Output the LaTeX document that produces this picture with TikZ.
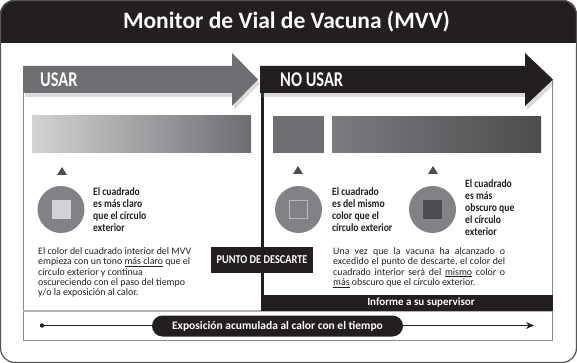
\documentclass[tikz,border=0pt]{standalone}
\usepackage{fontspec}
\setmainfont{Carlito}
\newfontfamily\condA{Carlito}[FakeStretch=0.78]
\newfontfamily\condB{Carlito}[FakeStretch=0.86]
\usetikzlibrary{arrows.meta,shadows}
\definecolor{blk}{HTML}{231F20}
\definecolor{arrgray}{HTML}{6D6E71}
\definecolor{lite}{HTML}{D1D3D4}
\definecolor{circ}{HTML}{808285}
\definecolor{dark}{HTML}{4D4D4F}
\definecolor{framegray}{HTML}{8A8A8A}
\definecolor{sepgray}{HTML}{B3B3B3}
\definecolor{sqline}{HTML}{B8B9BB}
\definecolor{gradR}{HTML}{7A7B7E}
\definecolor{outer}{HTML}{555555}
\begin{document}
\begin{tikzpicture}[x=1pt,y=-1pt,
  shadowed/.style={drop shadow={opacity=0.28,shadow xshift=2pt,shadow yshift=-4pt}},
  bigword/.style={text=white,font=\condA\bfseries\fontsize{21}{21}\selectfont,anchor=west,inner sep=0},
  lbl/.style={anchor=north west,inner sep=0,align=left,text=blk,font=\condB\bfseries\fontsize{11.2}{12}\selectfont},
  body/.style={anchor=north west,inner sep=0,align=left,text=blk,font=\fontsize{9.9}{10.3}\selectfont},
  whitebold/.style={text=white,font=\bfseries\fontsize{11.5}{12}\selectfont},
  disc/.style={circle,fill=circ,minimum size=47pt,inner sep=0},
  sq/.style={minimum size=19pt,inner sep=0},
  tri/.style={fill=dark}]
\useasboundingbox (0,0) rectangle (577,363);
\fill[white] (0,0) rectangle (577,363);
% header
\begin{scope}
\clip[rounded corners=14pt] (0,0) rectangle (577,363);
\fill[blk] (0,0) rectangle (577,43);
\end{scope}
\draw[outer,line width=1.2pt,rounded corners=14pt] (0.6,0.6) rectangle (576.4,362.4);
\node[text=white,font=\bfseries\fontsize{23.5}{24}\selectfont] (title) at (286.5,21.5) {Monitor de Vial de Vacuna (MVV)};
% inner frame
\draw[framegray,line width=0.8pt] (23,93) -- (23,340) -- (552.5,340) -- (552.5,80);
\draw[sepgray,line width=1.3pt] (23,311) -- (552.5,311);
% black divider and band
\fill[blk] (260.5,85) rectangle (263.5,296);
\node[fill=blk,minimum width=292.5pt,minimum height=16pt,inner sep=0] (band) at (406.75,303) {};
\node[text=white,font=\bfseries\fontsize{11}{12}\selectfont] (informe) at (421,303) {Informe a su supervisor};
% arrows
\path[fill=blk,shadowed] (260,66) -- (525,66) -- (525,53) -- (553,79.5) -- (525,106) -- (525,93) -- (260,93) -- cycle;
\path[fill=arrgray,shadowed] (23,66) -- (232,66) -- (232,53) -- (258,79.5) -- (232,106) -- (232,93) -- (23,93) -- cycle;
\node[bigword] (usar) at (40,80) {USAR};
\node[bigword] (nousar) at (280,80) {NO USAR};
% colour bars
\shade[left color=lite,right color=arrgray] (32,116) rectangle (251,153);
\fill[arrgray] (273,116.5) rectangle (324,153);
\shade[left color=gradR,right color=dark] (332,116.5) rectangle (541,153);
% triangles
\fill[tri] (57,175) -- (67,175) -- (62,167) -- cycle;
\fill[tri] (293,174) -- (303,174) -- (298,166) -- cycle;
\fill[tri] (428,174) -- (438,174) -- (433,166) -- cycle;
% discs
\node[disc] (c1) at (61,209.5) {};
\node[sq,fill=lite] (s1) at (c1) {};
\node[disc] (c2) at (298.5,209.5) {};
\node[sq,draw=sqline,line width=0.8pt,minimum size=18pt] (s2) at (c2) {};
\node[disc] (c3) at (432.5,209.5) {};
\node[sq,fill=dark] (s3) at (c3) {};
% labels
\node[lbl] (l1) at (93,187) {El cuadrado\\es más claro\\que el círculo\\exterior};
\node[lbl] (l2) at (332,187) {El cuadrado\\es del mismo\\color que el\\círculo exterior};
\node[lbl] (l3) at (465,179) {El cuadrado\\es más\\obscuro que\\el círculo\\exterior};
% body texts
\node[body] (b1) at (38,247.5) {El color del cuadrado interior del MVV\\empieza con un tono \underline{más claro} que el\\círculo exterior y continua\\oscureciendo con el paso del tiempo\\y/o la exposición al calor.};
\node[body] (b2) at (333,247.5) {\makebox[172pt][s]{Una vez que la vacuna ha alcanzado o}\\\makebox[172pt][s]{excedido el punto de descarte, el color del}\\\makebox[172pt][s]{cuadrado interior será del \underline{mismo} color o}\\\underline{más} obscuro que el círculo exterior.};
% punto de descarte
\node[fill=blk,minimum width=102pt,minimum height=26pt,inner sep=0,text=white,font=\condB\bfseries\fontsize{12}{12}\selectfont] (punto) at (262,260) {PUNTO DE DESCARTE};
% time axis
\coordinate (t0) at (42,325.5);
\coordinate (t1) at (534,325.5);
\fill[blk] (t0) circle (2.2pt);
\draw[blk,line width=1.3pt,-{Stealth[length=8pt,width=7pt]}] (t0) -- (t1);
\node[fill=blk,rounded corners=10.5pt,minimum width=251pt,minimum height=21pt,inner sep=0,whitebold] (pill) at (277.5,326) {Exposición acumulada al calor con el tiempo};
\end{tikzpicture}
\end{document}
